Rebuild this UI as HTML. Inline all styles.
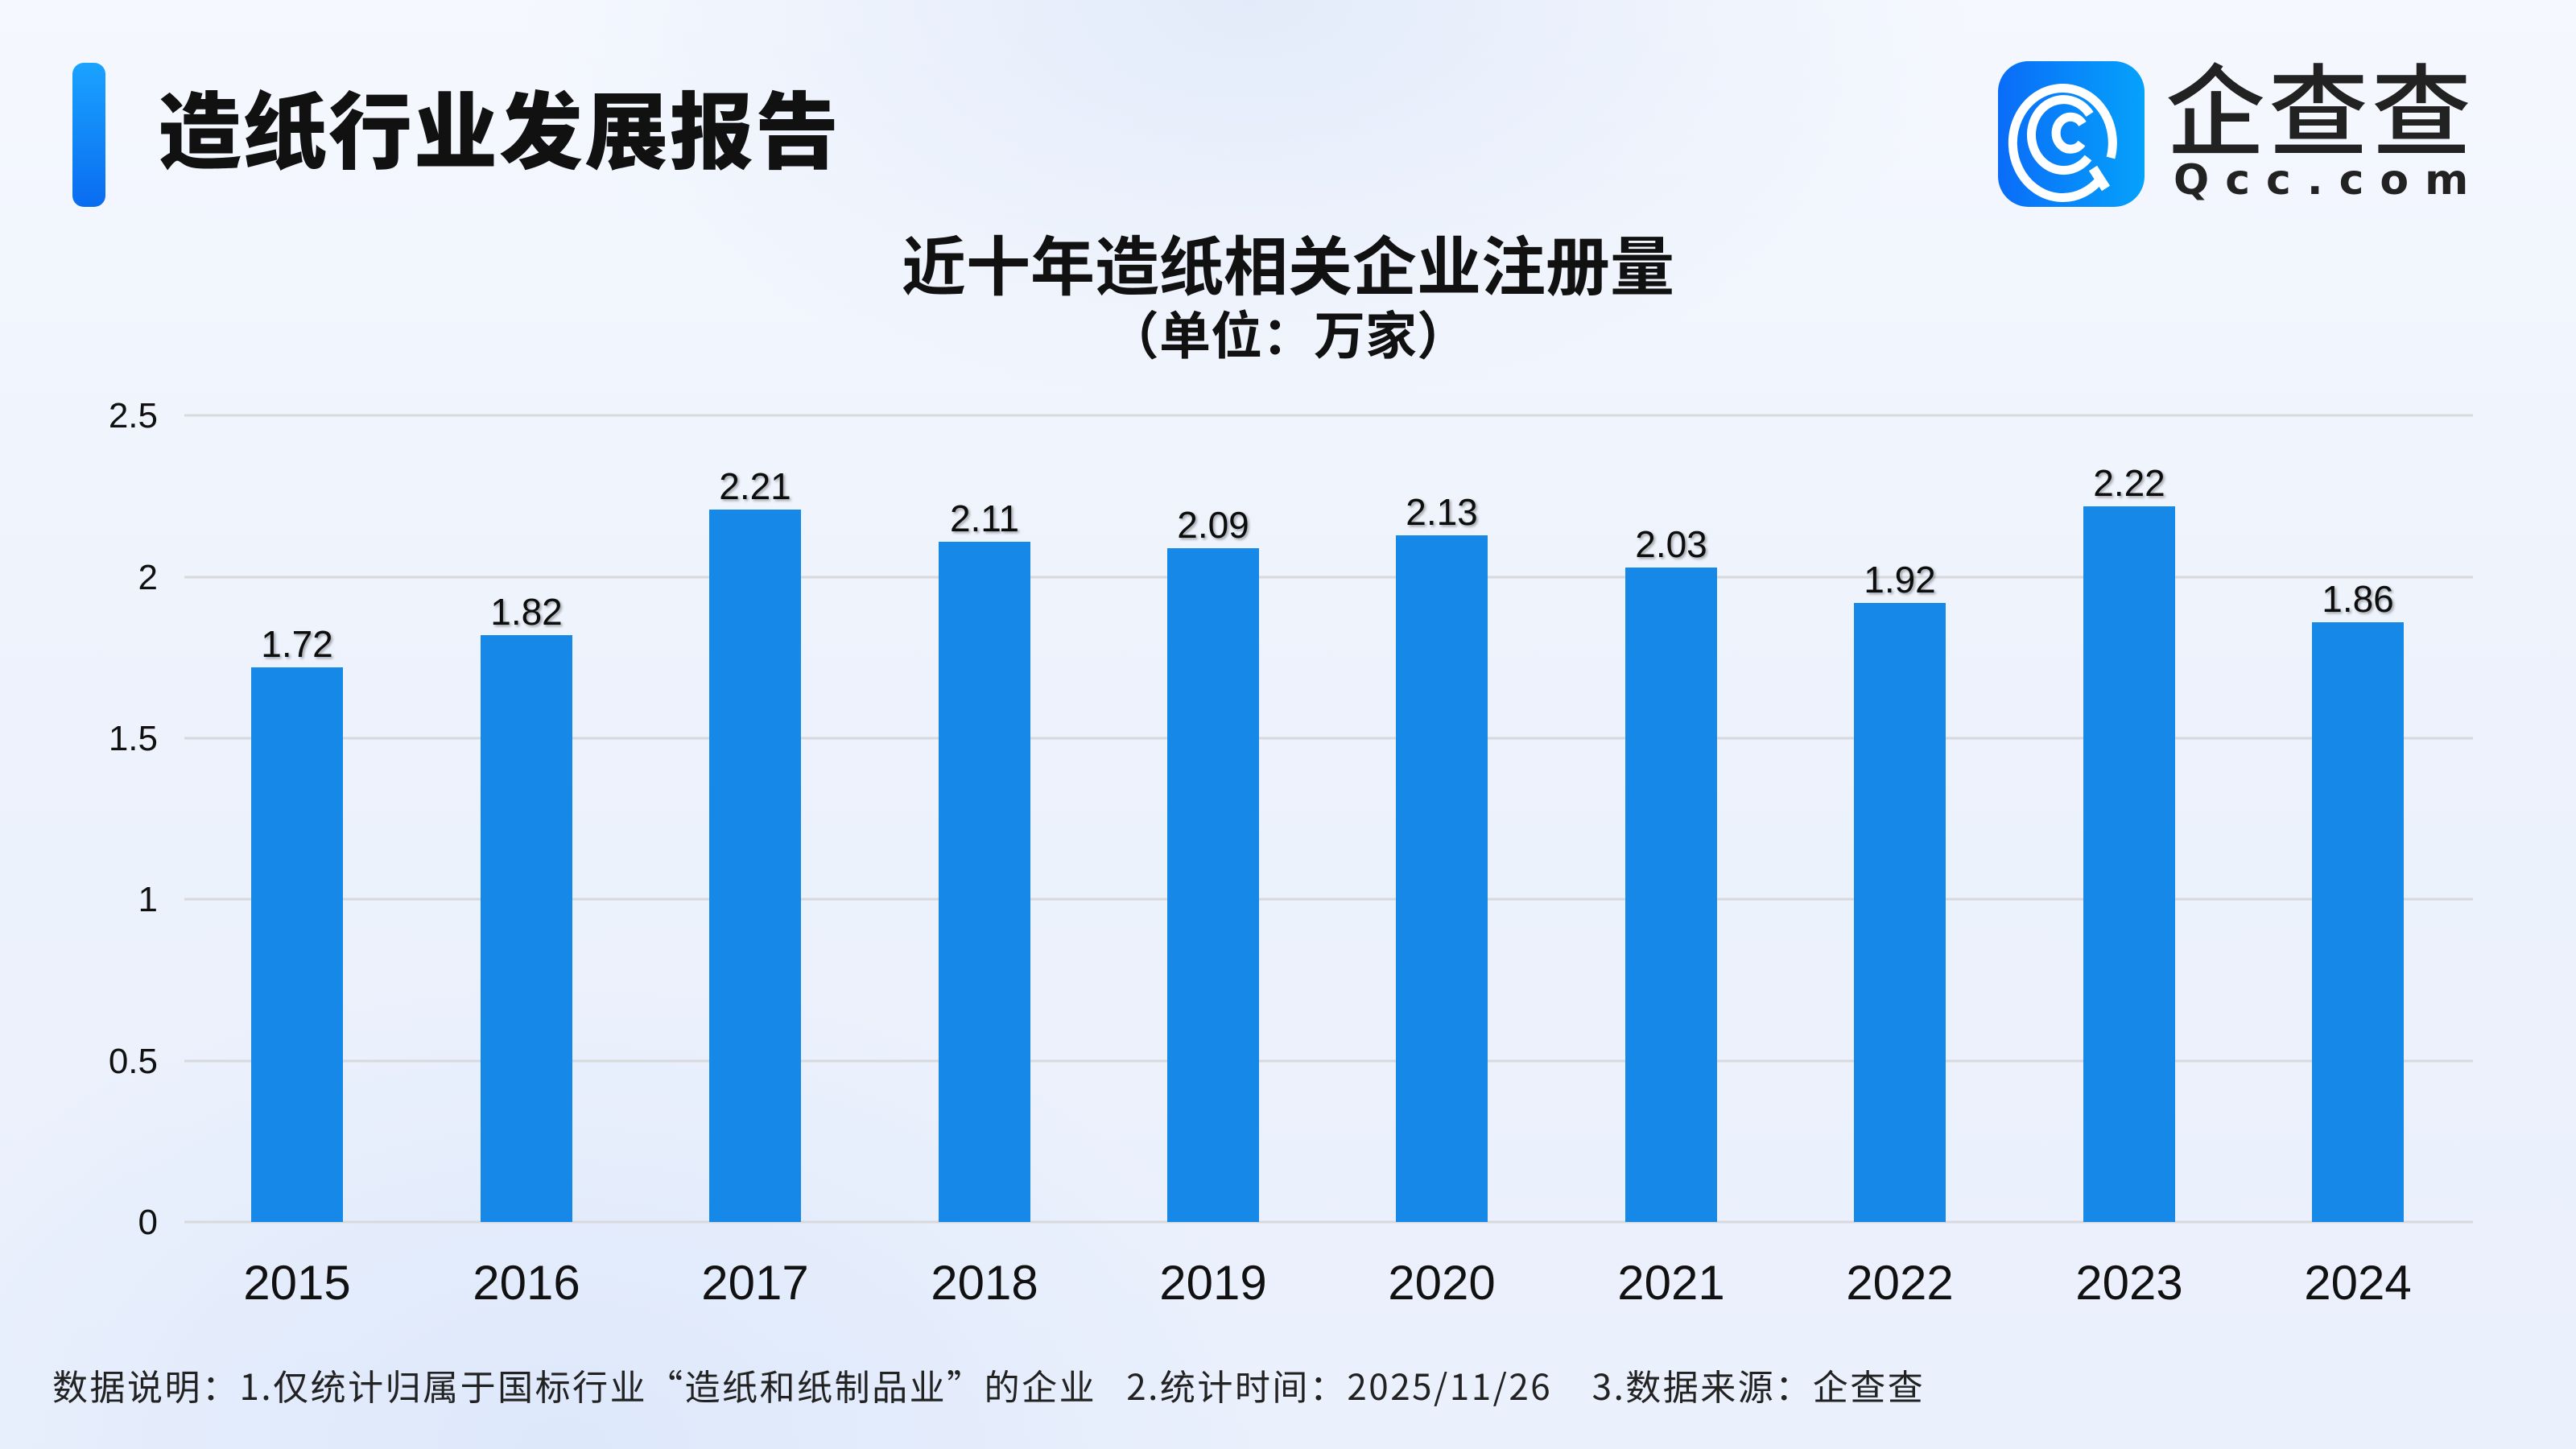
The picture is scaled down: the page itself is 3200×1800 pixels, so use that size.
<!DOCTYPE html>
<html><head><meta charset="utf-8"><style>
html,body{margin:0;padding:0}
body{width:3200px;height:1800px;overflow:hidden;position:relative;font-family:"Liberation Sans","Noto Sans CJK SC",sans-serif;
background:radial-gradient(ellipse 900px 500px at 1550px 0px,#e3ebfa 0%,rgba(227,235,250,0) 100%),radial-gradient(ellipse 900px 600px at 700px 1800px,#dde8fb 0%,rgba(221,232,251,0) 100%),linear-gradient(180deg,#f5f8fe 0%,#edf2fc 50%,#eaf0fc 100%);}
.bar{position:absolute;left:90px;top:78px;width:41px;height:179px;border-radius:14px;background:linear-gradient(180deg,#1aa3ff,#0a6cf0)}
.h1{position:absolute;left:196px;top:86px;font-family:"Noto Sans CJK SC",sans-serif;font-weight:900;font-size:104px;line-height:140px;color:#111;letter-spacing:2px}
.icon{position:absolute;left:2482px;top:76px;width:182px;height:181px;border-radius:38px;background:linear-gradient(90deg,#0a6cf8,#05a2fb)}
.brand{position:absolute;left:2690px;top:54px;font-family:"Noto Sans CJK SC",sans-serif;font-size:124px;line-height:150px;color:#222;letter-spacing:4px;font-weight:500}
.qcc{position:absolute;left:2700px;top:194px;font-family:"DejaVu Sans",sans-serif;font-size:52px;line-height:60px;color:#222;letter-spacing:20px;font-weight:bold}
.t1{position:absolute;left:0;width:3200px;text-align:center;top:276px;font-family:"Noto Sans CJK SC",sans-serif;font-weight:700;font-size:80px;line-height:100px;color:#111}
.t2{position:absolute;left:0;width:3200px;text-align:center;top:368px;font-family:"Noto Sans CJK SC",sans-serif;font-weight:700;font-size:64px;line-height:90px;color:#111}
.foot{position:absolute;left:65px;top:1690px;font-family:"Noto Sans CJK SC",sans-serif;font-size:44px;line-height:60px;color:#222;white-space:pre;letter-spacing:2.5px}
</style></head><body>
<div class="bar"></div>
<div class="h1">造纸行业发展报告</div>
<div class="icon"><svg width="182" height="181" viewBox="0 0 182 181">
<g fill="none" stroke="#fff" stroke-width="11">
<path d="M128 145 A62 68 0 1 1 140 120"/>
<path d="M112 120 A40 44 0 1 1 114 66"/>
<path d="M104 102 A18 20 0 1 1 105 78"/>
</g><path d="M118 133 L134 158" stroke="#fff" stroke-width="12"/></svg></div>
<div class="brand">企查查</div>
<div class="qcc">Qcc.com</div>
<div class="t1">近十年造纸相关企业注册量</div>
<div class="t2">（单位：万家）</div>
<svg style="position:absolute;left:0;top:0" width="3200" height="1800">
<defs><filter id="sh"><feDropShadow dx="2" dy="2" stdDeviation="1.5" flood-color="#000" flood-opacity="0.35"/></filter></defs>
<g stroke="#d8d9dc" stroke-width="3">
<line x1="229" x2="3072" y1="516" y2="516"/><line x1="229" x2="3072" y1="717" y2="717"/>
<line x1="229" x2="3072" y1="917" y2="917"/><line x1="229" x2="3072" y1="1117" y2="1117"/>
<line x1="229" x2="3072" y1="1318" y2="1318"/><line x1="229" x2="3072" y1="1518" y2="1518"/>
</g>
<g font-family="Liberation Sans Narrow, Liberation Sans, sans-serif" font-size="44" fill="#111" text-anchor="end">
<text x="196" y="531">2.5</text><text x="196" y="732">2</text><text x="196" y="932">1.5</text>
<text x="196" y="1132">1</text><text x="196" y="1333">0.5</text><text x="196" y="1533">0</text>
</g>
<g fill="#1689e8">
<rect x="312" y="829" width="114" height="689"/>
<rect x="597" y="789" width="114" height="729"/>
<rect x="881" y="633" width="114" height="885"/>
<rect x="1166" y="673" width="114" height="845"/>
<rect x="1450" y="681" width="114" height="837"/>
<rect x="1734" y="665" width="114" height="853"/>
<rect x="2019" y="705" width="114" height="813"/>
<rect x="2303" y="749" width="114" height="769"/>
<rect x="2588" y="629" width="114" height="889"/>
<rect x="2872" y="773" width="114" height="745"/>
</g>
<g font-family="Liberation Sans Narrow, Liberation Sans, sans-serif" font-size="46" fill="#111" text-anchor="middle" filter="url(#sh)">
<text x="369" y="816">1.72</text><text x="654" y="776">1.82</text><text x="938" y="620">2.21</text>
<text x="1223" y="660">2.11</text><text x="1507" y="668">2.09</text><text x="1791" y="652">2.13</text>
<text x="2076" y="692">2.03</text><text x="2360" y="736">1.92</text><text x="2645" y="616">2.22</text>
<text x="2929" y="760">1.86</text>
</g>
<g font-family="Liberation Sans Narrow, Liberation Sans, sans-serif" font-size="60" fill="#111" text-anchor="middle">
<text x="369" y="1614">2015</text><text x="654" y="1614">2016</text><text x="938" y="1614">2017</text>
<text x="1223" y="1614">2018</text><text x="1507" y="1614">2019</text><text x="1791" y="1614">2020</text>
<text x="2076" y="1614">2021</text><text x="2360" y="1614">2022</text><text x="2645" y="1614">2023</text>
<text x="2929" y="1614">2024</text>
</g>
</svg>
<div class="foot">数据说明：1.仅统计归属于国标行业“造纸和纸制品业”的企业   2.统计时间：2025/11/26    3.数据来源：企查查</div>
</body></html>
